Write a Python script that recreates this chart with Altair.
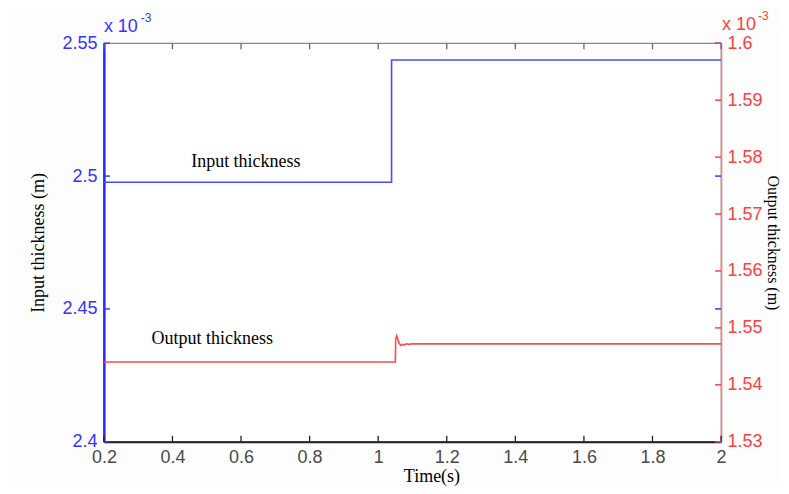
import altair as alt
import pandas as pd

# Input thickness (x10^-3 m) step series
in_time = [0.2, 1.039, 1.039, 2.0]
in_value = [2.4977, 2.4977, 2.5437, 2.5437]

# Output thickness (x10^-3 m) step series with small overshoot
out_time = [0.2, 1.050, 1.051, 1.054, 1.057, 1.061, 1.066, 1.071, 1.076, 1.082, 1.09, 1.10, 2.0]
out_value = [1.5440, 1.5440, 1.5480, 1.5486, 1.5481, 1.5473, 1.5469, 1.5471, 1.5470, 1.5472, 1.5471, 1.5472, 1.5472]

x_ticks = [0.2, 0.4, 0.6, 0.8, 1.0, 1.2, 1.4, 1.6, 1.8, 2.0]
left_ticks = [2.4, 2.45, 2.5, 2.55]
right_ticks = [1.53, 1.54, 1.55, 1.56, 1.57, 1.58, 1.59, 1.6]

annot_in = {"t": 0.614, "v": 2.5053, "label": "Input thickness"}
annot_out = {"t": 0.516, "v": 1.5481, "label": "Output thickness"}

W, H = 618, 399
BLUE = "#3434ff"
RED = "#ff4040"
LINE_BLUE = "#4a4aff"
LINE_RED = "#ff4a4a"
TICK_FONT = "Liberation Sans"
TICK_SIZE = 18

df_in = pd.DataFrame({"t": in_time, "v": in_value})
df_out = pd.DataFrame({"t": out_time, "v": out_value})
df_xt = pd.DataFrame({"t": x_ticks})
df_lt = pd.DataFrame({"v": left_ticks})
df_rt = pd.DataFrame({"v": right_ticks})

xscale = alt.Scale(domain=[0.2, 2.0], nice=False, zero=False)
yin = alt.Scale(domain=[2.4, 2.55], nice=False, zero=False)
yout = alt.Scale(domain=[1.53, 1.6], nice=False, zero=False)

xaxis = alt.Axis(values=x_ticks, format="~g", title="Time(s)", tickSize=0, orient="bottom",
                 labelColor="#4a4a4a", labelFont=TICK_FONT, labelFontSize=TICK_SIZE,
                 titleFont="Liberation Serif", titleFontSize=18, titleFontWeight="normal",
                 titleColor="#000000", titlePadding=1, titleX=328, domainColor="#222222",
                 domainWidth=2, labelPadding=7, grid=False, labelFlush=False)

left_axis = alt.Axis(values=left_ticks, format="~g", title="Input thickness (m)", orient="left",
                     tickSize=0, labelColor=BLUE, labelFont=TICK_FONT, labelFontSize=TICK_SIZE,
                     titleFont="Liberation Serif", titleFontSize=18, titleFontWeight="normal",
                     titleColor="#000000", titlePadding=14, domainColor="#2a2aff", domainWidth=2.5,
                     labelPadding=7, grid=False, labelFlush=False)

right_axis = alt.Axis(values=right_ticks, format="~g", title="Output thickness (m)", orient="right",
                      tickSize=0, labelColor=RED, labelFont=TICK_FONT, labelFontSize=TICK_SIZE,
                      titleFont="Liberation Serif", titleFontSize=16, titleFontWeight="normal",
                      titleColor="#000000", titlePadding=2, domainColor="#ff7a7a", domainWidth=1.5,
                      labelPadding=6, grid=False, labelFlush=False)

X = lambda: alt.X("t:Q", scale=xscale, axis=xaxis)
YIN = lambda: alt.Y("v:Q", scale=yin, axis=left_axis)
YOUT = lambda: alt.Y("v:Q", scale=yout, axis=right_axis)

in_line = alt.Chart(df_in).mark_line(color=LINE_BLUE, strokeWidth=1.6).encode(x=X(), y=YIN())

lt_rules = alt.Chart(df_lt).mark_rule(color=BLUE, strokeWidth=1.5).encode(
    y=YIN(), x=alt.value(0), x2=alt.value(6))
lt_rules_r = alt.Chart(df_lt).mark_rule(color=BLUE, strokeWidth=1.5).encode(
    y=YIN(), x=alt.value(W - 6), x2=alt.value(W))

in_text = alt.Chart(pd.DataFrame([annot_in])).mark_text(
    font="Liberation Serif", fontSize=18, color="#000000", align="center", baseline="middle"
).encode(x=X(), y=YIN(), text="label:N")

xt_bottom = alt.Chart(df_xt).mark_rule(color="#222222", strokeWidth=1.3).encode(
    x=X(), y=alt.value(H), y2=alt.value(H - 6))
xt_top = alt.Chart(df_xt).mark_rule(color="#666666", strokeWidth=1.3).encode(
    x=X(), y=alt.value(0), y2=alt.value(6))

exp_left = alt.Chart(pd.DataFrame({"s": ["x 10"]})).mark_text(
    font=TICK_FONT, fontSize=18, color=BLUE, align="left", baseline="alphabetic"
).encode(x=alt.value(0), y=alt.value(-11), text="s:N")
exp_left_sup = alt.Chart(pd.DataFrame({"s": ["-3"]})).mark_text(
    font=TICK_FONT, fontSize=12, color=BLUE, align="left", baseline="alphabetic"
).encode(x=alt.value(37), y=alt.value(-21), text="s:N")

in_layer = alt.layer(in_line, lt_rules, lt_rules_r, in_text, xt_bottom, xt_top, exp_left, exp_left_sup)

out_line = alt.Chart(df_out).mark_line(color=LINE_RED, strokeWidth=1.6).encode(x=X(), y=YOUT())

rt_rules = alt.Chart(df_rt).mark_rule(color=RED, strokeWidth=1.5).encode(
    y=YOUT(), x=alt.value(W), x2=alt.value(W - 6))

out_text = alt.Chart(pd.DataFrame([annot_out])).mark_text(
    font="Liberation Serif", fontSize=18, color="#000000", align="center", baseline="middle"
).encode(x=X(), y=YOUT(), text="label:N")

exp_right = alt.Chart(pd.DataFrame({"s": ["x 10"]})).mark_text(
    font=TICK_FONT, fontSize=18, color=RED, align="left", baseline="alphabetic"
).encode(x=alt.value(W + 1), y=alt.value(-13), text="s:N")
exp_right_sup = alt.Chart(pd.DataFrame({"s": ["-3"]})).mark_text(
    font=TICK_FONT, fontSize=12, color=RED, align="left", baseline="alphabetic"
).encode(x=alt.value(W + 37), y=alt.value(-23), text="s:N")

out_layer = alt.layer(out_line, rt_rules, out_text, exp_right, exp_right_sup)

chart = alt.layer(in_layer, out_layer).resolve_scale(y="independent").properties(
    width=W, height=H, autosize=alt.AutoSizeParams(type="none"),
    padding={"left": 96, "top": 35, "right": 60, "bottom": 44},
    background="#fdfdfd",
).configure_view(stroke="#888888", strokeWidth=1.3, fill="#ffffff")

chart.save("out.html", embed_options={"renderer": "svg", "actions": False})
